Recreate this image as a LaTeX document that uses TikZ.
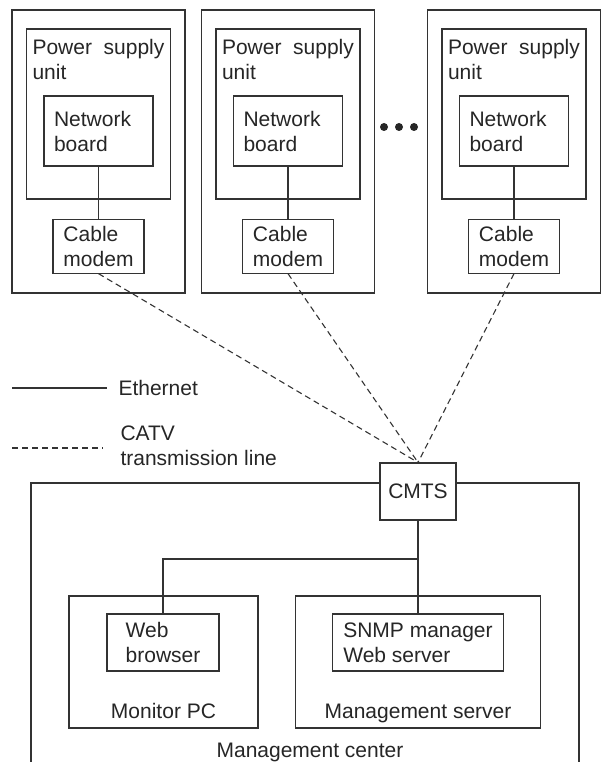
\documentclass[tikz,border=0pt]{standalone}
\usepackage{fontspec}
\setmainfont{Liberation Sans}
\usetikzlibrary{positioning}

\begin{document}
\begin{tikzpicture}[
  x=1pt, y=-1pt,
  line width=1.1pt,
  every node/.style={font=\fontsize{21pt}{25pt}\selectfont, text=black!85},
  box/.style={draw=black!80, fill=white, inner sep=0pt},
  rack/.style={box, minimum width=173pt, minimum height=283pt},
  psu/.style={box, minimum width=144pt, minimum height=170pt},
  board/.style={box, text width=89pt, inner xsep=10pt, minimum height=70pt, align=left},
  modem/.style={box, minimum width=91pt, minimum height=54pt, align=left},
  lbl/.style={inner sep=0pt, align=left},
  frame/.style={draw=black!80},
  eth/.style={draw=black!80},
  catv/.style={draw=black!80, dash pattern=on 6pt off 4pt},
]
\useasboundingbox (0,0) rectangle (602,762);

% Racks — power supply unit, network board, cable modem
\node[rack] (rack1) at (98.5,151.5) {};
\node[rack] (rack2) at (288,151.5) {};
\node[rack] (rack3) at (514,151.5) {};

\node[psu, below=19pt of rack1.north] (psu1) {};
\node[psu, below=19pt of rack2.north] (psu2) {};
\node[psu, below=19pt of rack3.north] (psu3) {};

\node[lbl, anchor=north west] (psu1txt) at ([shift={(6pt,-10pt)}]psu1.north west) {Power~~supply\\unit};
\node[lbl, anchor=north west] (psu2txt) at ([shift={(6pt,-10pt)}]psu2.north west) {Power~~supply\\unit};
\node[lbl, anchor=north west] (psu3txt) at ([shift={(6pt,-10pt)}]psu3.north west) {Power~~supply\\unit};

\node[board, below=67pt of psu1.north] (nb1) {Network\\board};
\node[board, below=67pt of psu2.north] (nb2) {Network\\board};
\node[board, below=67pt of psu3.north] (nb3) {Network\\board};

\node[modem, below=19pt of psu1] (cm1) {Cable\\modem};
\node[modem, below=19pt of psu2] (cm2) {Cable\\modem};
\node[modem, below=19pt of psu3] (cm3) {Cable\\modem};

\draw[eth] (nb1) -- (cm1);
\draw[eth] (nb2) -- (cm2);
\draw[eth] (nb3) -- (cm3);

% more racks
\fill[black!85] (384,127) circle (4pt) (399,127) circle (4pt) (414,127) circle (4pt);

% Legend
\coordinate (ethA) at (12,388);
\coordinate (ethB) at (107,388);
\draw[eth] (ethA) -- (ethB);
\node[inner sep=0pt, anchor=west] (ethtxt) at (118,388) {Ethernet};
\coordinate (catvA) at (12,448);
\coordinate (catvB) at (103,448);
\draw[catv] (catvA) -- (catvB);
\node[lbl, anchor=north west] (catvtxt) at (120,425) {CATV\\transmission line};

% Management center
\draw[frame] (31,762) |- (579,483) -- (579,762);
\node[anchor=base] (mgctxt) at (310,757) {Management center};

\node[box, minimum width=76pt, minimum height=57pt] (cmts) at (418,491.5) {CMTS};
\node[box, minimum width=189pt, minimum height=132pt] (monpc) at (163.5,662) {};
\node[box, minimum width=245pt, minimum height=132pt] (mgsrv) at (418,662) {};
\node[box, minimum width=112pt, minimum height=57pt, align=left] (web) at (163,642.5) {Web\\browser};
\node[box, minimum width=171pt, minimum height=57pt, align=left] (snmp) at (418,642.5) {SNMP manager\\Web server};
\node[anchor=base] (monpctxt) at ([yshift=10pt]monpc.south) {Monitor PC};
\node[anchor=base] (mgsrvtxt) at ([yshift=10pt]mgsrv.south) {Management server};

\coordinate (hub) at (418,559);
\draw[eth] (cmts) -- (snmp);
\draw[eth] (hub) -| (web);

% CATV lines to the CMTS
\draw[catv] (cm1.south) -- (cmts.north);
\draw[catv] (cm2.south) -- (cmts.north);
\draw[catv] (cm3.south) -- (cmts.north);

\end{tikzpicture}
\end{document}
